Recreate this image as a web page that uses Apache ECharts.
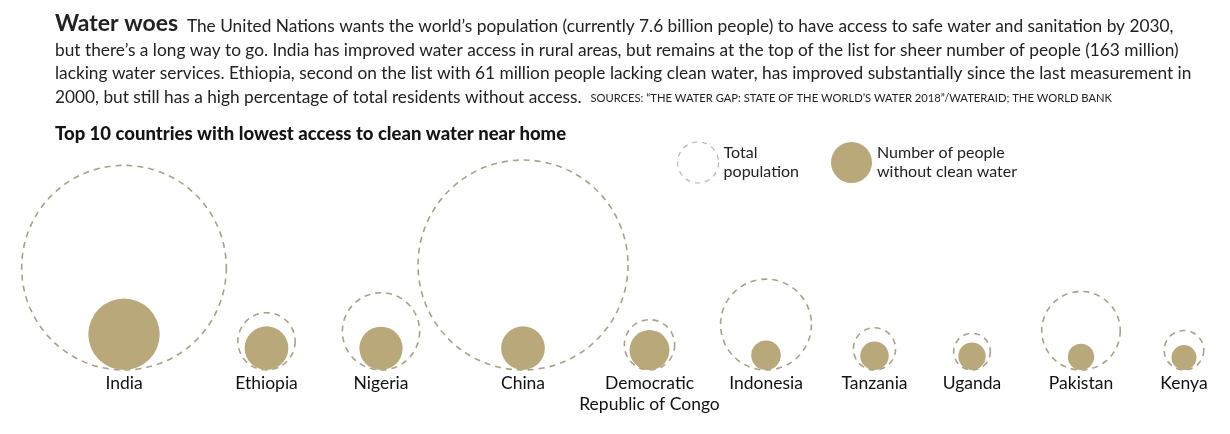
<!DOCTYPE html>
<html>
<head>
<meta charset="utf-8">
<script src="https://cdn.jsdelivr.net/npm/echarts@6/dist/echarts.min.js"></script>
<style>
html,body{margin:0;padding:0;background:#fff;}
#main{width:1230px;height:434px;}
</style>
</head>
<body>
<div id="main"></div>
<script>
// ---- data (millions of people) ----
var countries = ['India', 'Ethiopia', 'Nigeria', 'China', 'Democratic\nRepublic of Congo', 'Indonesia', 'Tanzania', 'Uganda', 'Pakistan', 'Kenya'];
var totalPopulation = [1339, 105, 191, 1410, 81, 264, 57, 43, 197, 50];
var withoutCleanWater = [163, 61, 60, 61, 51, 28, 26, 24, 22, 20];

// ---- layout (hand-placed infographic columns, not data) ----
var slotX = [124, 266.5, 381, 523, 649.5, 766, 874.5, 972, 1081, 1184];
var SIZE_K = 210 / Math.sqrt(1410); // px diameter per sqrt(million) – area proportional

var GOLD = '#b9a87a';
var DASH = '#a9a187';
var FONT = 'Lato, "Open Sans", sans-serif';

function pts(vals) {
  return vals.map(function (v, i) { return { name: countries[i], value: [slotX[i], 0, v] }; });
}

var chart = echarts.init(document.getElementById('main'), null, { renderer: 'canvas' });

var option = {
  backgroundColor: '#fff',
  animation: false,
  textStyle: { fontFamily: FONT },
  title: {
    text: 'Top 10 countries with lowest access to clean water near home',
    left: 50, top: 120,
    textStyle: { fontFamily: FONT, fontSize: 18.5, fontWeight: 900, color: '#151515' }
  },
  legend: {
    left: 672, top: 135,
    selectedMode: false,
    itemWidth: 41, itemHeight: 41, itemGap: 32,
    icon: 'circle',
    data: [
      { name: 'Total population', itemStyle: { color: 'rgba(255,255,255,0)', borderColor: '#b9b3a3', borderWidth: 1.2, borderType: [5, 5], opacity: 1 } },
      { name: 'Number of people without clean water', itemStyle: { color: GOLD, borderWidth: 0, opacity: 1 } }
    ],
    formatter: function (n) {
      return n === 'Total population' ? 'Total\npopulation' : 'Number of people\nwithout clean water';
    },
    textStyle: { fontFamily: FONT, fontSize: 16, lineHeight: 19, color: '#222', padding: [0, 0, 7, 0] }
  },
  graphic: [{
    type: 'text',
    left: 55, top: 12,
    style: {
      text: '{t|Water woes}  {b|The United Nations wants the world\u2019s population (currently 7.6 billion people) to have access to safe water and sanitation by 2030,}\n' +
            '{b|but there\u2019s a long way to go. India has improved water access in rural areas, but remains at the top of the list for sheer number of people (163 million)}\n' +
            '{b|lacking water services. Ethiopia, second on the list with 61 million people lacking clean water, has improved substantially since the last measurement in}\n' +
            '{b|2000, but still has a high percentage of total residents without access.}  {s|SOURCES: \u201CTHE WATER GAP: STATE OF THE WORLD\u2019S WATER 2018\u201D/WATERAID; THE WORLD BANK}',
      fill: '#222',
      font: '17.3px ' + FONT,
      rich: {
        t: { fontFamily: FONT, fontSize: 23, fontWeight: 'bold', color: '#2a2a2a', lineHeight: 23.5, verticalAlign: 'bottom' },
        b: { fontFamily: FONT, fontSize: 17.3, color: '#222', lineHeight: 23.5, verticalAlign: 'bottom' },
        s: { fontFamily: FONT, fontSize: 11.2, color: '#222', lineHeight: 23.5, verticalAlign: 'bottom', padding: [0, 0, 2, 0] }
      }
    }
  }],
  grid: { left: 0, right: 0, top: 0, bottom: 64, containLabel: false },
  xAxis: { type: 'value', min: 0, max: 1230, show: false },
  yAxis: { type: 'value', min: 0, max: 1, show: false },
  series: [
    {
      name: 'Total population',
      type: 'scatter',
      symbol: 'circle',
      symbolSize: function (v) { return Math.sqrt(v[2]) * SIZE_K; },
      symbolOffset: [0, '-50%'],
      itemStyle: { color: 'rgba(255,255,255,0)', borderColor: DASH, borderWidth: 1.6, borderType: [6, 5], opacity: 1 },
      data: pts(totalPopulation),
      z: 3,
      silent: true
    },
    {
      name: 'Number of people without clean water',
      type: 'scatter',
      symbol: 'circle',
      symbolSize: function (v) { return Math.sqrt(v[2]) * SIZE_K; },
      symbolOffset: [0, '-50%'],
      itemStyle: { color: GOLD, borderColor: GOLD, borderWidth: 0, opacity: 1 },
      label: {
        show: true,
        position: 'bottom',
        distance: 3,
        formatter: function (p) { return p.name; },
        fontFamily: FONT, fontSize: 17.5, lineHeight: 21, color: '#111', align: 'center'
      },
      data: pts(withoutCleanWater),
      z: 4,
      silent: true
    }
  ]
};
chart.setOption(option);
</script>
</body>
</html>
